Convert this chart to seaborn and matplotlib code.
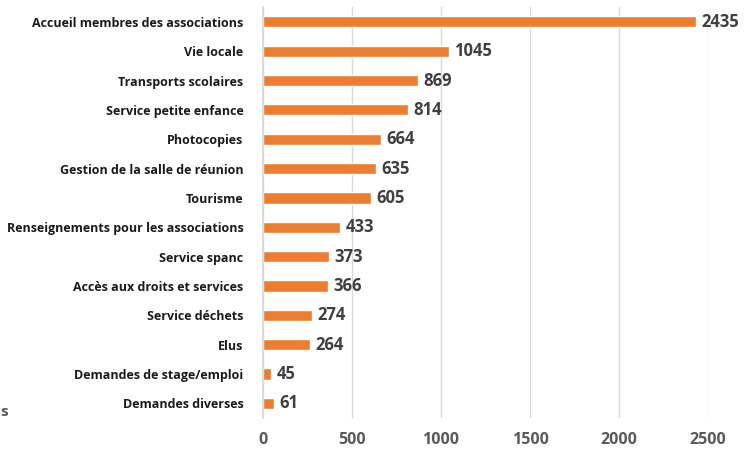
import matplotlib
matplotlib.use("Agg")
import matplotlib.pyplot as plt
import seaborn as sns
import pandas as pd

categories = ["Accueil membres des associations", "Vie locale", "Transports scolaires",
              "Service petite enfance", "Photocopies", "Gestion de la salle de réunion",
              "Tourisme", "Renseignements pour les associations", "Service spanc",
              "Accès aux droits et services", "Service déchets", "Elus",
              "Demandes de stage/emploi", "Demandes diverses"]
values = [2435, 1045, 869, 814, 664, 635, 605, 433, 373, 366, 274, 264, 45, 61]
xticks = [0, 500, 1000, 1500, 2000, 2500]

sns.set_theme(style="white")
plt.rcParams['font.family'] = ['Open Sans', 'DejaVu Sans']

df = pd.DataFrame({"cat": categories, "val": values})
fig = plt.figure(figsize=(7.52, 4.5), dpi=100)
ax = fig.add_axes([0.3497, 0.071, 0.5918, 0.913])
sns.barplot(data=df, x="val", y="cat", color="#ED7D31", width=0.38, ax=ax, saturation=1)
ax.set_xlim(0, 2500)
ax.set_ylim(len(categories) - 0.5, -0.5)
ax.set_xticks(xticks)
ax.set_xticklabels([str(t) for t in xticks], fontsize=11.5, fontweight="bold", color="#595959")
ax.set_yticks(range(len(categories)))
ax.set_yticklabels(categories, fontsize=9, fontweight="bold", color="#1a1a1a")
ax.set_xlabel("")
ax.set_ylabel("")
ax.tick_params(axis="x", length=0, pad=10)
ax.tick_params(axis="y", length=0, pad=14)
ax.grid(axis="x", color="#D9D9D9", linewidth=1)
ax.set_axisbelow(True)
for s in ["top", "right", "bottom"]:
    ax.spines[s].set_visible(False)
ax.spines["left"].set_color("#D9D9D9")
for i, v in enumerate(values):
    ax.text(v + 30, i, str(v), va="center", ha="left", fontsize=12, fontweight="bold", color="#404040")
fig.text(0.0, 0.075, "s", fontsize=11, fontweight="bold", color="#595959")
fig.savefig("out.png", dpi=100)
